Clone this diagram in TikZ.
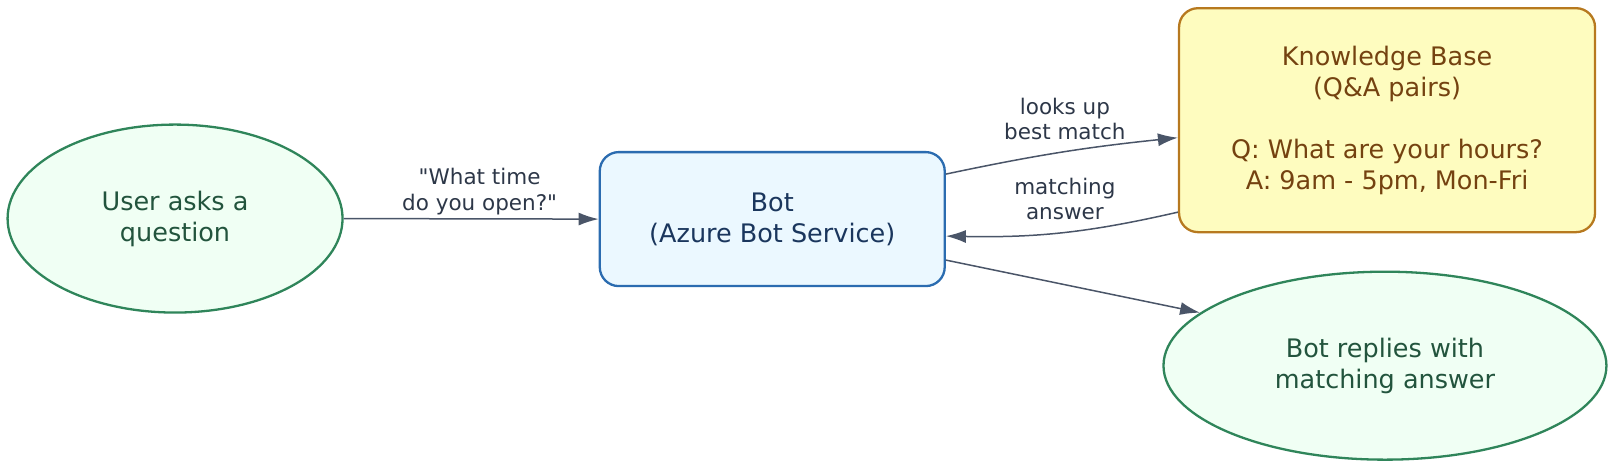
\documentclass[tikz,border=0pt]{standalone}
\usepackage{fontspec}
\setmainfont{DejaVu Sans}
\usetikzlibrary{shapes.geometric,arrows.meta}
\definecolor{gfill}{HTML}{F0FFF4}\definecolor{gline}{HTML}{2F855A}\definecolor{gtext}{HTML}{22543D}
\definecolor{bfill}{HTML}{EBF8FF}\definecolor{bline}{HTML}{2B6CB0}\definecolor{btext}{HTML}{1A365D}
\definecolor{yfill}{HTML}{FEFCBF}\definecolor{yline}{HTML}{B7791F}\definecolor{ytext}{HTML}{744210}
\definecolor{eline}{HTML}{4A5568}\definecolor{etext}{HTML}{2D3748}
\newcommand\mainsz{\fontsize{25.5}{31}\selectfont}
\newcommand\labsz{\fontsize{21.5}{25.7}\selectfont}
\begin{document}
\begin{tikzpicture}[x=1.036pt,y=-1.036pt,
 ell/.style={ellipse,draw=gline,fill=gfill,text=gtext,line width=2.3pt,align=center,inner sep=0pt,font=\mainsz},
 box/.style={rectangle,rounded corners=19pt,line width=2.3pt,align=center,inner sep=0pt,font=\mainsz},
 edge/.style={draw=eline,line width=1.5pt,-{Latex[length=20pt,width=13pt]}},
 lab/.style={text=etext,align=center,font=\labsz}]
\useasboundingbox (0,0) rectangle (1561,450);
\clip (0,0) rectangle (1561,450);
\node[ell,minimum width=335pt,minimum height=188pt] (user) at (169,211) {User asks a\\question};
\node[box,draw=bline,fill=bfill,text=btext,minimum width=345pt,minimum height=134pt] (bot) at (745.5,211.5) {Bot\\(Azure Bot Service)};
\node[box,draw=yline,fill=yfill,text=ytext,minimum width=416pt,minimum height=224pt] (kb) at (1339,116) {Knowledge Base\\(Q\&A pairs)\\[31pt]Q: What are your hours?\\A: 9am - 5pm, Mon-Fri};
\node[ell,minimum width=443pt,minimum height=188pt] (rep) at (1337,353) {Bot replies with\\matching answer};
\draw[edge] (user.east) -- (bot.west);
\node[lab] at (463,185) {\textquotedbl What time\\do you open?\textquotedbl};
\draw[edge] ([yshift=45pt]bot.east) to[bend left=3] ([yshift=-17.5pt]kb.west);
\node[lab] at (1028,115) {looks up\\best match};
\draw[edge] ([yshift=-92pt]kb.west) to[bend left=7] ([yshift=-17pt]bot.east);
\node[lab] at (1028,192) {matching\\answer};
\draw[edge] ([yshift=-41pt]bot.east) -- (rep.164);
\end{tikzpicture}
\end{document}
